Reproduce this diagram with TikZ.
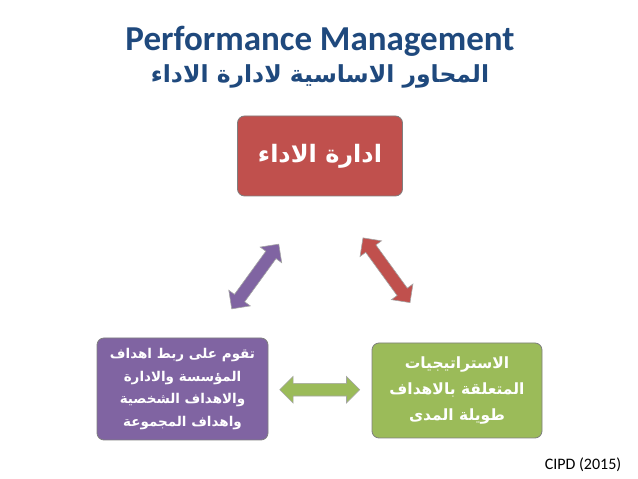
\documentclass[tikz,border=0pt]{standalone}
\usepackage{fontspec}
\setmainfont{Carlito}
\newfontfamily\arabicfont[Script=Arabic]{DejaVu Sans}
\TeXXeTstate=1
\usetikzlibrary{calc,positioning,shapes.arrows}
\definecolor{TitleBlue}{HTML}{1F497D}
\definecolor{AxisRed}{HTML}{C0504D}
\definecolor{AxisPurple}{HTML}{8064A2}
\definecolor{AxisGreen}{HTML}{9BBB59}
\definecolor{EdgeGray}{HTML}{7F7F7F}

\begin{document}
\begin{tikzpicture}[
      x=1pt, y=1pt,
      axisbox/.style={
        rounded corners=7pt, draw=EdgeGray, line width=0.8pt,
        text=white, align=center, inner sep=0pt
      },
      twoway/.style={
        double arrow, draw=EdgeGray!70, line width=0.6pt,
        minimum height=80pt, inner xsep=0pt, inner ysep=6pt,
        double arrow head extend=7pt, double arrow head indent=0pt
      }
    ]
      \useasboundingbox (0,0) rectangle (638,479);
      \node[font=\bfseries\fontsize{35}{40}\selectfont, text=TitleBlue] (title)
        at (320,438) {Performance Management};
      \node[font=\arabicfont\bfseries\fontsize{23.5}{28}\selectfont, text=TitleBlue] (subtitle)
        at (320,403) {\beginR المحاور الاساسية لادارة الاداء\endR};
      % the three axes
      \node[axisbox, fill=AxisRed, minimum width=165pt, minimum height=80pt,
        font=\arabicfont\bfseries\fontsize{24}{28}\selectfont] (adm)
        at (320,323) {\beginR ادارة الاداء\endR};
      \node[axisbox, fill=AxisPurple, minimum width=171pt, minimum height=102pt,
        font=\arabicfont\bfseries\fontsize{13.5}{22.5}\selectfont] (link)
        at (182.5,90) {\beginR تقوم على ربط اهداف\endR\\\beginR المؤسسة والادارة\endR\\
          \beginR والاهداف الشخصية\endR\\\beginR واهداف المجموعة\endR};
      \node[axisbox, fill=AxisGreen, minimum width=170pt, minimum height=95pt,
        font=\arabicfont\bfseries\fontsize{15.5}{26}\selectfont] (strat)
        at (457,88.5) {\beginR الاستراتيجيات\endR\\\beginR المتعلقة بالاهداف\endR\\
          \beginR طويلة المدى\endR};
      % two-way links between the axes
      \node[twoway, fill=AxisPurple, rotate=54] (la) at ($(link)!0.5!(adm)+(4,-4)$) {};
      \node[twoway, fill=AxisRed, rotate=-54] (ra) at ($(adm)!0.5!(strat)+(-2,3)$) {};
      \node[twoway, fill=AxisGreen] (ga) at ($(link)!0.5!(strat)$) {};
      \node[font=\fontsize{16}{19}\selectfont] (src) at (583,14) {CIPD (2015)};
    \end{tikzpicture}
\end{document}
